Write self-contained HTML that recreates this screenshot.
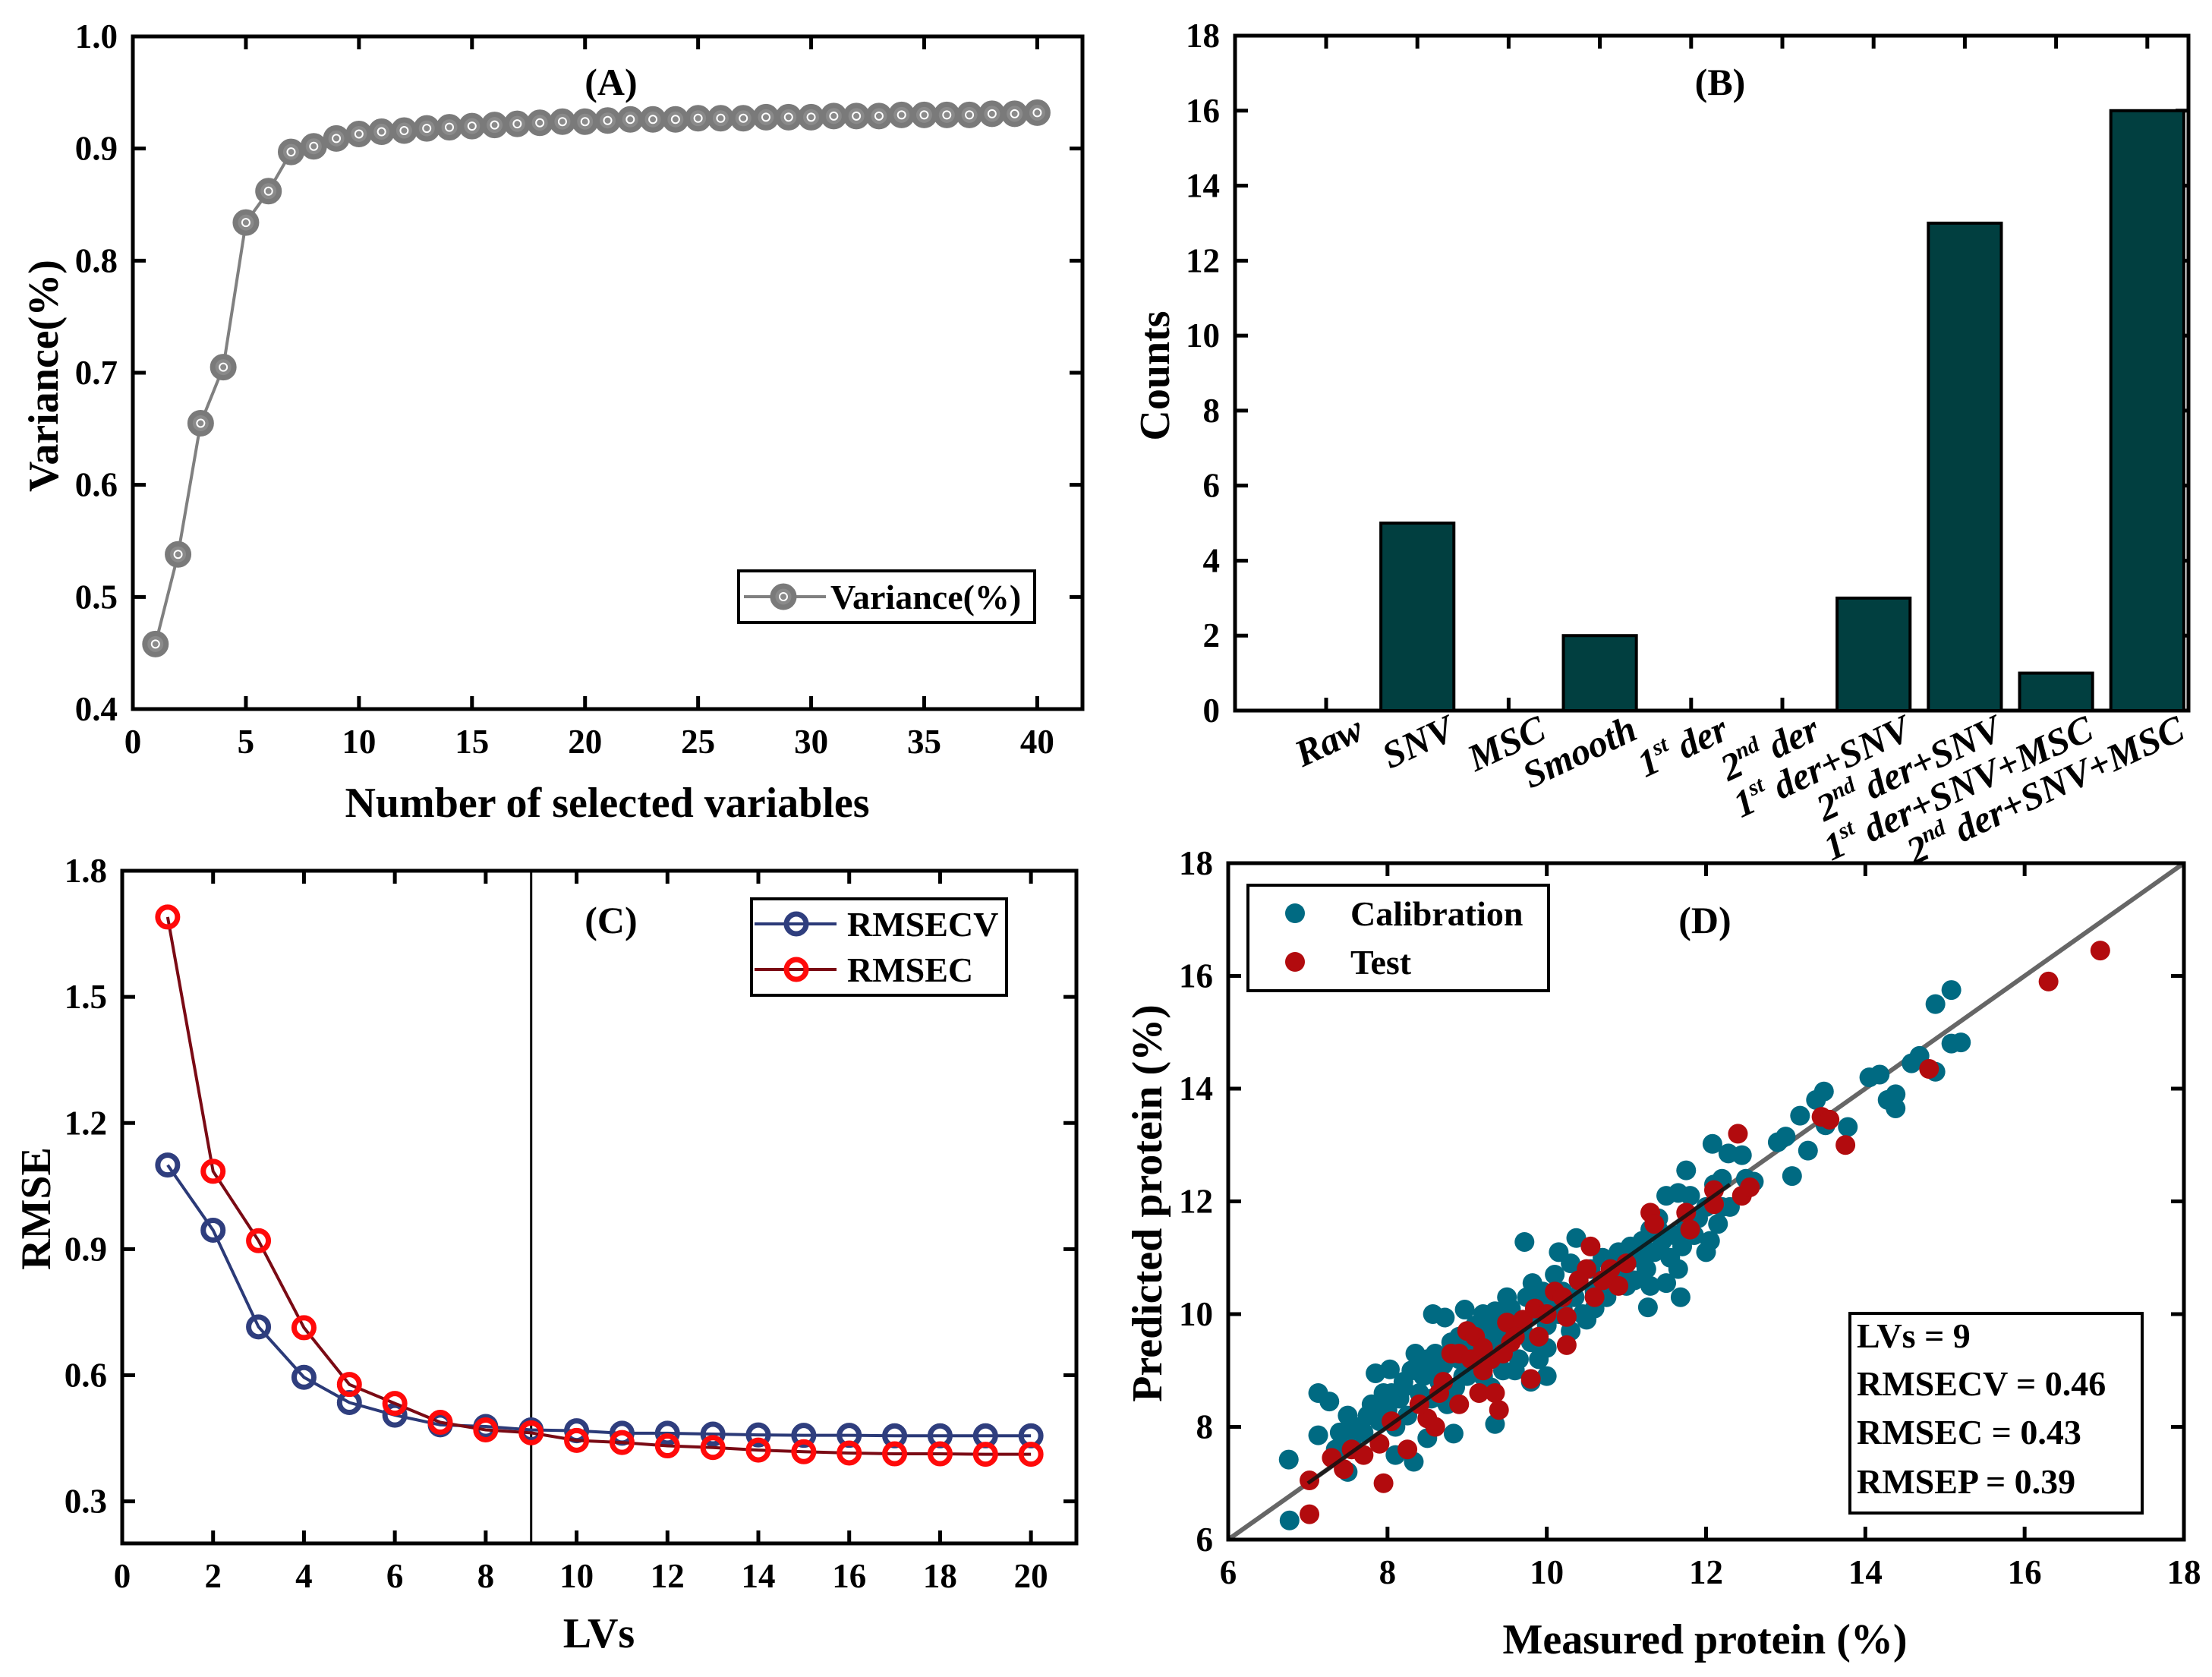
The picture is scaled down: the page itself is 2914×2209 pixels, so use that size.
<!DOCTYPE html>
<html><head><meta charset="utf-8"><style>
html,body{margin:0;padding:0;background:#fff}
svg{display:block}
text{font-family:"Liberation Serif",serif;font-weight:bold;fill:#000}
</style></head><body>
<svg id="fig" width="2914" height="2209" viewBox="0 0 2914 2209" xmlns="http://www.w3.org/2000/svg"></svg>
<script>
// ---------- DATA ----------
const aX = [1,2,3,4,5,6,7,8,9,10,11,12,13,14,15,16,17,18,19,20,21,22,23,24,25,26,27,28,29,30,31,32,33,34,35,36,37,38,39,40];
const aVar = [0.458,0.538,0.655,0.705,0.834,0.862,0.897,0.902,0.909,0.913,0.915,0.916,0.918,0.919,0.920,0.921,0.922,0.923,0.924,0.924,0.925,0.926,0.926,0.926,0.927,0.927,0.927,0.928,0.928,0.928,0.929,0.929,0.929,0.930,0.930,0.930,0.930,0.931,0.931,0.932];
const aXTicks = [0,5,10,15,20,25,30,35,40];
const aYTicks = [0.4,0.5,0.6,0.7,0.8,0.9,1.0];

const bCats = ["Raw","SNV","MSC","Smooth","1st der","2nd der","1st der+SNV","2nd der+SNV","1st der+SNV+MSC","2nd der+SNV+MSC"];
const bCounts = [0,5,0,2,0,0,3,13,1,16];
const bYTicks = [0,2,4,6,8,10,12,14,16,18];

const cLV = [1,2,3,4,5,6,7,8,9,10,11,12,13,14,15,16,17,18,19,20];
const cRMSECV = [1.10,0.945,0.715,0.595,0.535,0.505,0.482,0.478,0.470,0.468,0.462,0.462,0.460,0.458,0.457,0.457,0.456,0.456,0.456,0.456];
const cRMSEC = [1.69,1.085,0.92,0.713,0.578,0.533,0.488,0.470,0.463,0.445,0.440,0.432,0.428,0.422,0.418,0.415,0.413,0.413,0.412,0.412];
const cXTicks = [0,2,4,6,8,10,12,14,16,18,20];
const cYTicks = [0.3,0.6,0.9,1.2,1.5,1.8];
const cOptLV = 9;

const dCal = [[6.76,7.42],[6.77,6.34],[7.13,8.6],[7.27,8.45],[7.13,7.85],[7.85,8.95],[8.03,9.02],[8.57,10.0],[8.72,9.94],[8.97,10.08],[9.35,10.05],[9.72,11.28],[9.82,10.55],[10.37,11.35],[10.15,11.1],[11.27,10.12],[11.68,10.3],[11.75,12.55],[12.08,13.02],[12.28,12.85],[12.45,12.82],[12.9,13.05],[13.0,13.15],[13.08,12.45],[13.18,13.52],[13.28,12.9],[13.38,13.8],[13.48,13.95],[13.5,13.35],[13.78,13.32],[14.05,14.2],[14.18,14.25],[14.28,13.8],[14.38,13.65],[14.38,13.9],[14.58,14.45],[14.68,14.58],[14.88,14.3],[14.88,15.5],[15.08,15.75],[15.08,14.8],[15.2,14.82],[12.5,12.4],[12.6,12.35],[12.2,11.9],[12.15,11.6],[12.0,11.1],[12.05,11.3],[11.65,10.8],[11.5,10.55],[11.3,10.5],[8.83,7.88],[9.35,8.05],[8.1,7.5],[8.33,7.38],[8.5,7.8],[7.5,7.2],[7.35,7.6],[7.5,8.2],[7.6,8.0],[9.0,8.9],[9.8,8.8],[10.0,8.9],
[7.4,7.9],[7.55,7.7],[7.7,7.9],[7.75,8.2],[7.8,8.4],[7.9,8.1],[8.0,8.3],[8.05,8.6],[8.1,8.0],[8.15,8.5],[8.2,8.8],[8.25,8.2],[8.3,9.0],[8.35,9.3],[8.4,8.6],[8.45,8.9],[8.5,9.2],[8.55,8.5],[8.6,9.3],[8.65,8.8],[8.7,9.1],[8.75,8.4],[8.8,9.5],[8.85,8.7],[8.9,9.2],[8.95,8.9],[9.0,9.5],[9.05,9.1],[9.1,9.8],[9.15,9.3],[9.2,8.9],[9.25,9.6],[9.3,9.9],[9.35,9.3],[9.4,9.7],[9.45,9.0],[9.5,9.4],[9.55,10.1],[9.6,9.6],[9.65,9.2],[9.7,9.9],[9.75,10.3],[9.8,9.5],[9.85,10.0],[9.9,9.2],[9.95,10.4],[10.0,9.8],[10.05,10.2],[10.1,10.7],[10.15,10.0],[10.2,10.4],[10.3,10.9],[10.35,10.3],[10.4,10.6],[10.45,10.0],[10.5,9.9],[10.55,10.8],[10.6,10.4],[10.7,11.0],[10.75,10.3],[10.8,10.7],[10.9,11.1],[10.95,10.6],[11.0,10.9],[11.05,11.2],[11.1,10.6],[11.15,11.0],[11.2,11.3],[11.25,10.8],[11.3,11.5],[11.35,11.1],[11.4,11.7],[11.45,11.3],[11.5,12.1],[11.55,11.0],[11.6,11.4],[11.65,12.15],[11.7,11.2],[11.75,11.6],[11.8,12.1],[11.85,11.4],[11.9,11.7],[12.0,11.9],[12.1,12.3],[12.2,12.4],[12.3,11.9],[9.2,10.0],[9.5,10.3],[8.9,9.6],[8.6,9.0],[8.4,9.1],[8.2,8.7],[7.95,8.6],[9.3,8.7],[9.6,9.0],[10.0,9.4],[10.3,9.7],[10.6,10.1],[11.0,10.5],[8.7,8.5],[9.0,9.2],[9.4,9.5],[9.7,9.7],[10.2,10.1],[10.8,10.9],[11.4,11.5]];
const dTest = [[7.02,6.45],[7.02,7.05],[7.3,7.45],[7.45,7.25],[7.55,7.6],[7.7,7.5],[7.95,7.0],[7.9,7.7],[8.05,8.1],[8.25,7.6],[8.5,8.15],[8.6,8.0],[8.65,8.6],[8.8,9.3],[8.9,9.3],[8.9,8.4],[9.0,9.7],[9.1,9.6],[9.15,8.6],[9.2,9.0],[9.3,9.2],[9.35,8.6],[9.4,8.3],[9.5,9.85],[9.55,9.5],[9.7,9.9],[9.8,8.85],[9.85,10.1],[9.9,9.6],[10.0,10.0],[10.1,10.4],[10.25,9.45],[10.25,9.95],[10.4,10.6],[10.5,10.8],[10.55,11.2],[10.6,10.3],[10.8,10.8],[10.9,10.5],[11.0,10.9],[11.3,11.8],[11.35,11.6],[11.75,11.8],[11.8,11.5],[12.1,12.2],[12.1,11.95],[12.4,13.2],[12.45,12.1],[12.55,12.25],[13.45,13.5],[13.55,13.45],[13.75,13.0],[14.8,14.35],[16.3,15.9],[16.95,16.45],[9.05,9.2],[9.2,9.4],[9.45,9.3],[9.6,9.6],[8.7,8.8],[8.4,8.4],[10.2,10.3],[10.7,10.6]];
const dTicks = [6,8,10,12,14,16,18];
const dStats = ["LVs = 9","RMSECV = 0.46","RMSEC = 0.43","RMSEP = 0.39"];

// ---------- HELPERS ----------
const NS="http://www.w3.org/2000/svg";
const svg=document.getElementById('fig');
function mk(tag,attrs,parent){const e=document.createElementNS(NS,tag);for(const k in attrs)e.setAttribute(k,attrs[k]);(parent||svg).appendChild(e);return e;}
function txt(s,x,y,size,anchor,parent,extra){const t=mk('text',Object.assign({x:x,y:y,'font-size':size,'text-anchor':anchor||'middle'},extra||{}),parent);t.textContent=s;return t;}
function scale(d0,d1,p0,p1){return v=>p0+(v-d0)/(d1-d0)*(p1-p0);}
function frame(g,L,T,R,B){const r=mk('rect',{x:L,y:T,width:R-L,height:B-T,fill:'none',stroke:'#000','stroke-width':5},g);}
function yTicks(g,ticks,sy,L,R,fmt){ticks.forEach(v=>{const y=sy(v);mk('line',{x1:L,y1:y,x2:L+17,y2:y,stroke:'#000','stroke-width':5},g);mk('line',{x1:R,y1:y,x2:R-17,y2:y,stroke:'#000','stroke-width':5},g);const t=txt(fmt(v),L-20,y+15,45,'end',g);});}
function xTicks(g,ticks,sx,T,B,fmt,labels){ticks.forEach(v=>{const x=sx(v);mk('line',{x1:x,y1:B,x2:x,y2:B-17,stroke:'#000','stroke-width':5},g);mk('line',{x1:x,y1:T,x2:x,y2:T+17,stroke:'#000','stroke-width':5},g);if(labels){const t=txt(fmt(v),x,B+58,45,'middle',g);}});}
function group(name){const g=mk('g',{});return g;}

// ---------- PANEL A ----------
(function(){
 const g=group('panel-a-variance');
 const L=175,R=1426,T=48,B=934;
 const sx=scale(0,42,L,R), sy=scale(0.4,1.0,B,T);
 frame(g,L,T,R,B);
 yTicks(g,aYTicks,sy,L,R,v=>v.toFixed(1));
 xTicks(g,aXTicks,sx,T,B,v=>String(v),true);
 const pts=aX.map((x,i)=>sx(x)+','+sy(aVar[i])).join(' ');
 const pl=mk('polyline',{points:pts,fill:'none',stroke:'#808080','stroke-width':4},g);
 
 aX.forEach((x,i)=>{const c=mk('circle',{cx:sx(x),cy:sy(aVar[i]),r:14,fill:'#8a8a8a',stroke:'#7a7a7a','stroke-width':7},g);
  
  mk('circle',{cx:sx(x),cy:sy(aVar[i]),r:5,fill:'none',stroke:'#fff','stroke-width':2},g);});
 const p=txt('(A)',805,125,50,'middle',g);
 const xt=txt('Number of selected variables',800,1076,56,'middle',g);
 const yt=txt('Variance(%)',0,0,56,'middle',g,{transform:'translate(76,495) rotate(-90)'});
 const lg=mk('g',{},g);
 mk('rect',{x:973,y:752,width:390,height:68,fill:'#fff',stroke:'#000','stroke-width':4},lg);
 mk('line',{x1:980,y1:786,x2:1088,y2:786,stroke:'#808080','stroke-width':4},lg);
 mk('circle',{cx:1032,cy:786,r:14,fill:'#8a8a8a',stroke:'#7a7a7a','stroke-width':7},lg);
 mk('circle',{cx:1032,cy:786,r:5,fill:'none',stroke:'#fff','stroke-width':2},lg);
 txt('Variance(%)',1094,802,46,'start',lg);
})();

// ---------- PANEL B ----------
(function(){
 const g=group('panel-b-counts');
 const L=1627,R=2883,T=47,B=936;
 const cx0=1747, step=120.2;
 const sxc=i=>cx0+i*step, sy=scale(0,18,B,T);
 frame(g,L,T,R,B);
 yTicks(g,bYTicks,sy,L,R,v=>String(v));
 bCats.forEach((c,i)=>{const x=sxc(i);mk('line',{x1:x,y1:B,x2:x,y2:B-17,stroke:'#000','stroke-width':5},g);mk('line',{x1:x,y1:T,x2:x,y2:T+17,stroke:'#000','stroke-width':5},g);});
 bCounts.forEach((v,i)=>{const bw=0.8*step,x=sxc(i)-bw/2;const r=mk('rect',{x:x,y:sy(v),width:bw,height:B-sy(v),fill:'#013f40',stroke:'#000','stroke-width':4},g);
  });
 bCats.forEach((c,i)=>{const x=sxc(i)+52,y=972;
  const t=mk('text',{'font-size':50,'text-anchor':'end','font-style':'italic',transform:'translate('+x+','+y+') rotate(-25)'},g);
  
  const m=c.match(/^(\d)(st|nd)(.*)$/);
  if(m){const a=document.createElementNS(NS,'tspan');a.textContent=m[1];t.appendChild(a);
   const s=document.createElementNS(NS,'tspan');s.setAttribute('font-size',30);s.setAttribute('dy',-20);s.textContent=m[2];t.appendChild(s);
   const r=document.createElementNS(NS,'tspan');r.setAttribute('dy',20);r.textContent=m[3];t.appendChild(r);}
  else t.textContent=c;});
 const p=txt('(B)',2266,125,50,'middle',g);
 const yt=txt('Counts',0,0,56,'middle',g,{transform:'translate(1540,495) rotate(-90)'});
})();

// ---------- PANEL C ----------
(function(){
 const g=group('panel-c-rmse');
 const L=161,R=1418,T=1147,B=2033;
 const sx=scale(0,21,L,R), sy=scale(0.2,1.8,B,T);
 frame(g,L,T,R,B);
 yTicks(g,cYTicks,sy,L,R,v=>v.toFixed(1));
 xTicks(g,cXTicks,sx,T,B,v=>String(v),true);
 const vl=mk('line',{x1:sx(cOptLV),y1:T,x2:sx(cOptLV),y2:B,stroke:'#000','stroke-width':3},g);
 
 function series(vals,lc,mc,name){
  const pl=mk('polyline',{points:cLV.map((x,i)=>sx(x)+','+sy(vals[i])).join(' '),fill:'none',stroke:lc,'stroke-width':4},g);
  
  cLV.forEach((x,i)=>{const c=mk('circle',{cx:sx(x),cy:sy(vals[i]),r:13,fill:'none',stroke:mc,'stroke-width':7},g);
   });
 }
 series(cRMSECV,'#2b3a78','#2f3e7e','rmsecv');
 series(cRMSEC,'#7a0a14','#ff0a0a','rmsec');
 const p=txt('(C)',805,1229,50,'middle',g);
 const xt=txt('LVs',789,2170,56,'middle',g);
 const yt=txt('RMSE',0,0,56,'middle',g,{transform:'translate(66,1592) rotate(-90)'});
 const lg=mk('g',{},g);
 mk('rect',{x:990,y:1184,width:336,height:127,fill:'#fff',stroke:'#000','stroke-width':4},lg);
 mk('line',{x1:994,y1:1217,x2:1102,y2:1217,stroke:'#2b3a78','stroke-width':4},lg);
 mk('circle',{cx:1049,cy:1217,r:13,fill:'none',stroke:'#2f3e7e','stroke-width':7},lg);
 txt('RMSECV',1116,1233,46,'start',lg);
 mk('line',{x1:994,y1:1277,x2:1102,y2:1277,stroke:'#7a0a14','stroke-width':4},lg);
 mk('circle',{cx:1049,cy:1277,r:13,fill:'none',stroke:'#ff0a0a','stroke-width':7},lg);
 txt('RMSEC',1116,1293,46,'start',lg);
})();

// ---------- PANEL D ----------
(function(){
 const g=group('panel-d-scatter');
 const L=1618,R=2877,T=1137,B=2028;
 const sx=scale(6,18,L,R), sy=scale(6,18,B,T);
 const id=mk('line',{x1:sx(6),y1:sy(6),x2:sx(18),y2:sy(18),stroke:'#666','stroke-width':6},g);
 
 dCal.forEach(p=>{const c=mk('circle',{cx:sx(p[0]),cy:sy(p[1]),r:13,fill:'#006a82'},g);
  });
 dTest.forEach(p=>{const c=mk('circle',{cx:sx(p[0]),cy:sy(p[1]),r:13,fill:'#b20b0e'},g);
  });
 const fl=mk('line',{x1:sx(7),y1:sy(7),x2:sx(12.3),y2:sy(12.3),stroke:'#111','stroke-width':5,opacity:0.85},g);
 
 frame(g,L,T,R,B);
 yTicks(g,dTicks,sy,L,R,v=>String(v));
 xTicks(g,dTicks,sx,T,B,v=>String(v),true);
 const p=txt('(D)',2246,1229,50,'middle',g);
 const xt=txt('Measured protein (%)',2246,2178,56,'middle',g);
 const yt=txt('Predicted protein (%)',0,0,56,'middle',g,{transform:'translate(1530,1585) rotate(-90)'});
 const lg=mk('g',{},g);
 mk('rect',{x:1644,y:1166,width:396,height:139,fill:'#fff',stroke:'#000','stroke-width':4},lg);
 mk('circle',{cx:1706,cy:1203,r:13,fill:'#006a82'},lg);
 txt('Calibration',1779,1219,46,'start',lg);
 mk('circle',{cx:1706,cy:1267,r:13,fill:'#b20b0e'},lg);
 txt('Test',1779,1283,46,'start',lg);
 const sb=mk('g',{},g);
 mk('rect',{x:2437,y:1730,width:385,height:263,fill:'#fff',stroke:'#000','stroke-width':4},sb);
 const ys=[1759,1822,1886,1951];
 dStats.forEach((s,i)=>{txt(s,2446,ys[i]+16,46,'start',sb);});
})();
</script>
</body></html>
